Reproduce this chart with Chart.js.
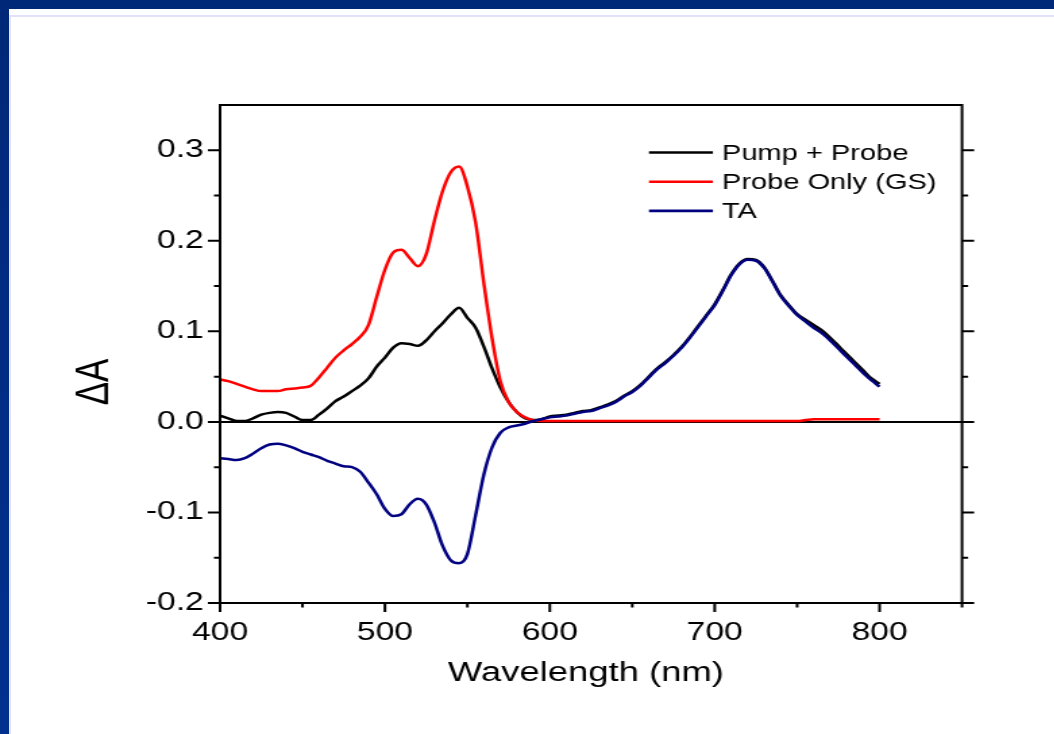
<!DOCTYPE html>
<html>
<head>
<meta charset="utf-8">
<script src="https://cdn.jsdelivr.net/npm/chart.js@4.4.1/dist/chart.umd.min.js"></script>
<style>
  html, body { margin: 0; padding: 0; width: 1054px; height: 734px; overflow: hidden; background: #ffffff; }
  .band  { position: absolute; left: 0; top: 0; width: 1054px; height: 9px; background: #002878; }
  .strip { position: absolute; left: 0; top: 0; width: 9px; height: 734px; background: linear-gradient(#002878, #00318f); }
  .rule-h { position: absolute; left: 9px; top: 15px; width: 1045px; height: 2px; background: #e2e2fa; }
  .rule-v { position: absolute; left: 9px; top: 15px; width: 2px; height: 719px; background: #e2e2fa; }
  /* the graph is laid out narrow and widened, like the pasted figure */
  #wrap { position: absolute; left: 0; top: 0; width: 781px; height: 734px; transform: scaleX(1.35); transform-origin: 0 0; }
  canvas { display: block; }
</style>
</head>
<body>
<div class="band"></div>
<div class="strip"></div>
<div class="rule-h"></div>
<div class="rule-v"></div>
<div id="wrap"><canvas id="c" width="781" height="734"></canvas></div>
<script>
// Wavelength grid (nm)
const wavelengths = [
  400,405,410,415,420,425,430,435,440,445,450,455,460,465,470,475,480,485,490,495,
  500,505,510,515,520,525,530,535,540,545,550,555,560,565,570,575,580,585,590,595,
  600,605,610,615,620,625,630,635,640,645,650,655,660,665,670,675,680,685,690,695,
  700,705,710,715,720,725,730,735,740,745,750,755,760,765,770,775,780,785,790,795,
  800
];

// Pump + Probe absorbance
const pumpProbe = [
  0.007,0.004,0.001,0.001,0.004,0.008,0.010,0.011,0.010,0.006,0.002,0.002,0.008,0.015,0.023,0.028,0.034,0.040,0.048,0.061,
  0.071,0.082,0.087,0.086,0.084,0.090,0.100,0.109,0.119,0.126,0.115,0.104,0.083,0.059,0.038,0.022,0.011,0.004,0.002,0.003,
  0.006,0.007,0.008,0.010,0.012,0.013,0.016,0.019,0.023,0.029,0.034,0.041,0.050,0.059,0.066,0.074,0.083,0.094,0.106,0.118,
  0.130,0.146,0.163,0.175,0.180,0.179,0.171,0.156,0.140,0.129,0.119,0.113,0.107,0.101,0.093,0.084,0.075,0.066,0.057,0.048,
  0.042
];

// Probe only (ground state) absorbance
const probeOnly = [
  0.047,0.045,0.042,0.039,0.036,0.034,0.034,0.034,0.036,0.037,0.038,0.040,0.049,0.060,0.071,0.079,0.086,0.094,0.107,0.138,
  0.168,0.187,0.190,0.181,0.172,0.185,0.222,0.255,0.276,0.282,0.260,0.220,0.153,0.092,0.045,0.022,0.011,0.005,0.002,0.001,
  0.001,0.001,0.001,0.001,0.001,0.001,0.001,0.001,0.001,0.001,0.001,0.001,0.001,0.001,0.001,0.001,0.001,0.001,0.001,0.001,
  0.001,0.001,0.001,0.001,0.001,0.001,0.001,0.001,0.001,0.001,0.001,0.002,0.003,0.003,0.003,0.003,0.003,0.003,0.003,0.003,
  0.003
];

// Transient absorption difference
const transientAbs = [
  -0.040,-0.041,-0.042,-0.040,-0.035,-0.029,-0.025,-0.024,-0.026,-0.029,-0.033,-0.036,-0.039,-0.043,-0.046,-0.049,-0.050,-0.055,-0.067,-0.080,
  -0.096,-0.104,-0.102,-0.091,-0.085,-0.091,-0.111,-0.137,-0.153,-0.156,-0.146,-0.103,-0.058,-0.028,-0.012,-0.006,-0.004,-0.002,0.001,0.003,
  0.005,0.006,0.007,0.009,0.011,0.012,0.015,0.018,0.022,0.028,0.033,0.040,0.049,0.058,0.065,0.073,0.082,0.093,0.105,0.117,
  0.129,0.145,0.162,0.174,0.179,0.178,0.170,0.155,0.139,0.128,0.118,0.111,0.104,0.098,0.090,0.081,0.072,0.063,0.054,0.046,
  0.039
];

const seriesNames = ['Pump + Probe', 'Probe Only (GS)', 'TA'];

// Axis ticks
const xTickValues = [400, 500, 600, 700, 800];
const xTickLabels = ['400', '500', '600', '700', '800'];
const xMinorTicks = [450, 550, 650, 750, 850];
const yTickValues = [-0.2, -0.1, 0.0, 0.1, 0.2, 0.3];
const yTickLabels = ['-0.2', '-0.1', '0.0', '0.1', '0.2', '0.3'];
const yMinorTicks = [-0.15, -0.05, 0.05, 0.15, 0.25];

const FONT = "'Liberation Sans', Arial, Helvetica, sans-serif";

const toXY = (ys) => wavelengths.map((w, i) => ({ x: w, y: ys[i] }));

// Frame, ticks on left/right/bottom, axis titles and the inset legend
const framePlugin = {
  id: 'frame',
  afterDatasetsDraw(chart) {
    const { ctx, chartArea: a, scales: { x, y } } = chart;
    const MAJ = 9, MIN = 4.5;
    ctx.save();
    ctx.strokeStyle = '#000';
    ctx.lineWidth = 2;
    ctx.strokeRect(a.left, a.top, a.right - a.left, a.bottom - a.top);
    ctx.beginPath();
    xTickValues.forEach(v => { const p = x.getPixelForValue(v); ctx.moveTo(p, a.bottom); ctx.lineTo(p, a.bottom + MAJ); });
    xMinorTicks.forEach(v => { const p = x.getPixelForValue(v); ctx.moveTo(p, a.bottom); ctx.lineTo(p, a.bottom + MIN); });
    yTickValues.forEach(v => {
      const p = y.getPixelForValue(v);
      ctx.moveTo(a.left - MAJ, p); ctx.lineTo(a.left, p);
      ctx.moveTo(a.right, p); ctx.lineTo(a.right + MAJ, p);
    });
    yMinorTicks.forEach(v => {
      const p = y.getPixelForValue(v);
      ctx.moveTo(a.left - MIN, p); ctx.lineTo(a.left, p);
      ctx.moveTo(a.right, p); ctx.lineTo(a.right + MIN, p);
    });
    ctx.stroke();

    // axis titles
    ctx.fillStyle = '#000';
    ctx.textAlign = 'center';
    ctx.textBaseline = 'alphabetic';
    ctx.font = `27px ${FONT}`;
    ctx.fillText('Wavelength (nm)', 434, 681);

    ctx.save();
    ctx.translate(70, 382);
    ctx.rotate(-Math.PI / 2);
    ctx.textBaseline = 'middle';
    ctx.font = `35px ${FONT}`;
    ctx.fillText('\u0394A', 0, 0);
    ctx.restore();

    // legend
    ctx.font = `21.5px ${FONT}`;
    ctx.textAlign = 'left';
    ctx.textBaseline = 'alphabetic';
    chart.data.datasets.forEach((ds, i) => {
      const rowY = 152.5 + i * 29.2;
      ctx.strokeStyle = ds.borderColor;
      ctx.lineWidth = 2.6;
      ctx.beginPath();
      ctx.moveTo(480.7, rowY);
      ctx.lineTo(528.1, rowY);
      ctx.stroke();
      ctx.fillStyle = '#000';
      ctx.fillText(ds.label, 534.8, rowY + 7);
    });
    ctx.restore();
  }
};

const lineStyle = { pointRadius: 0, borderWidth: 2.5, fill: false, cubicInterpolationMode: 'monotone' };

new Chart(document.getElementById('c'), {
  type: 'line',
  data: {
    datasets: [
      { ...lineStyle, label: seriesNames[0], data: toXY(pumpProbe),    borderColor: '#000000', order: 2 },
      { ...lineStyle, label: seriesNames[1], data: toXY(probeOnly),    borderColor: '#ff0000', order: 1 },
      { ...lineStyle, label: seriesNames[2], data: toXY(transientAbs), borderColor: '#000080', order: 0 }
    ]
  },
  options: {
    responsive: false,
    animation: false,
    devicePixelRatio: 1,
    layout: { padding: { left: 0, right: 68.4, top: 105, bottom: 0 } },
    plugins: { legend: { display: false }, tooltip: { enabled: false } },
    scales: {
      x: {
        type: 'linear',
        min: 400, max: 850,
        afterFit: (s) => { s.height = 131; },
        afterBuildTicks: (s) => { s.ticks = xTickValues.map(v => ({ value: v })); },
        grid: { display: false, drawTicks: false },
        border: { display: false },
        ticks: {
          padding: 15,
          color: '#000',
          maxRotation: 0,
          autoSkip: false,
          font: { family: FONT, size: 25 },
          callback: (v, i) => xTickLabels[i]
        }
      },
      y: {
        type: 'linear',
        min: -0.2, max: 0.35,
        afterFit: (s) => { s.width = 163; },
        afterBuildTicks: (s) => { s.ticks = yTickValues.map(v => ({ value: v })); },
        grid: {
          drawTicks: false,
          lineWidth: 2,
          color: (c) => (c.tick && Math.abs(c.tick.value) < 1e-9 ? '#000000' : 'rgba(0,0,0,0)')
        },
        border: { display: false },
        ticks: {
          padding: 12,
          color: '#000',
          autoSkip: false,
          font: { family: FONT, size: 25 },
          callback: (v, i) => yTickLabels[i]
        }
      }
    }
  },
  plugins: [framePlugin]
});
</script>
</body>
</html>
